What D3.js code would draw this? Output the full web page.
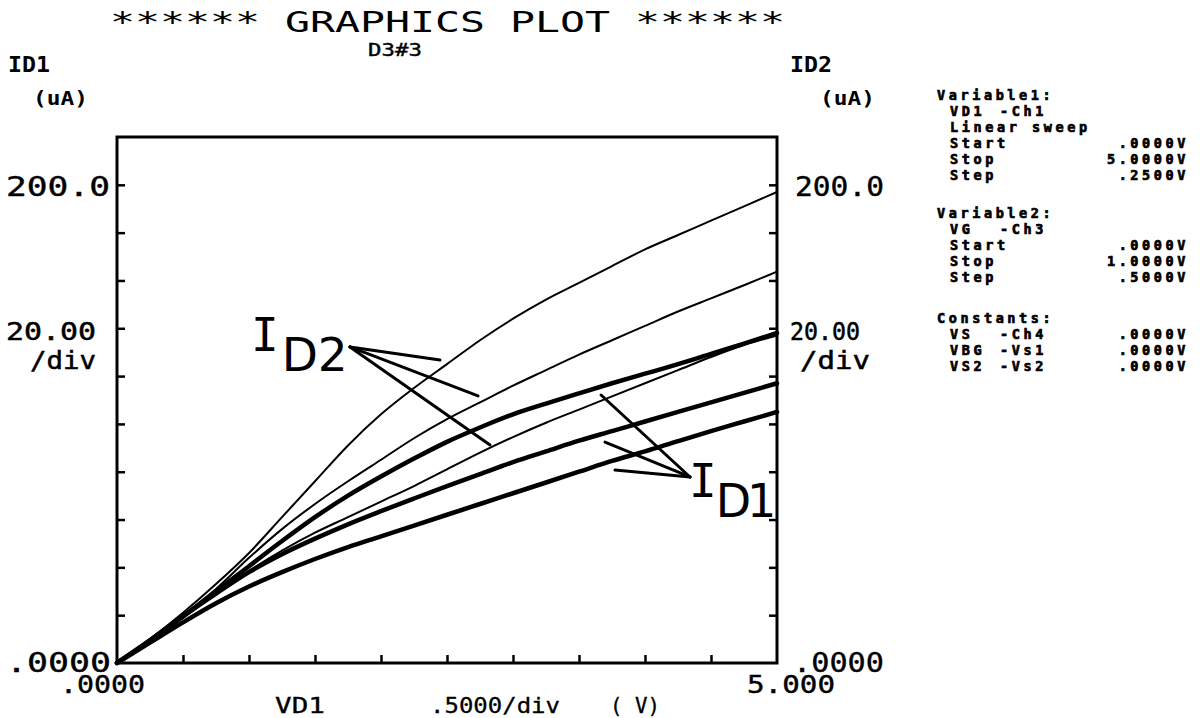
<!DOCTYPE html>
<html><head><meta charset="utf-8">
<script src="https://cdn.jsdelivr.net/npm/d3@7/dist/d3.min.js"></script>
<style>body{margin:0;background:#fff} svg{display:block}</style>
</head><body><svg id="c" width="1201" height="718"></svg>
<script>
// ---- data ----
const vd = [0,0.25,0.5,0.75,1,1.25,1.5,1.75,2,2.25,2.5,2.75,3,3.25,3.5,3.75,4,4.25,4.5,4.75,5];
const id2_a = [0,10,21,33,46,61,76,91,104,115,125,135,144,152,159,166,173,179,185,191,197];
const id2_b = [0,9.5,20,31,44,56,66.5,76,85,94,102,109,116,122.5,129,135,141,147,152.5,158,163.7];
const id2_c = [0,9.5,19.5,29,38.5,47,54.5,61,67.5,74,81,88,94.5,100.5,106,111.5,117,122.5,128,133,137];
const id1_a = [0,9.5,19.5,30,40.5,51,61,70,78,85.5,92.5,98.5,104,108.5,112.8,117,121,125,129.3,133.6,138];
const id1_b = [0,9.5,19.5,29,38,45.5,52,58,63.5,68.8,74,79,84,88.5,93,97,101,105,109,113,117];
const id1_c = [0,8.5,17,25,32,38,43.5,48.5,53,57.5,62,66.5,71,75.5,80,84.5,88.5,92.8,97,101,105];
const yTicks = [20,40,60,80,100,120,140,160,180,200];
const xTicks = [0.5,1,1.5,2,2.5,3,3.5,4,4.5];
const titleText = "****** GRAPHICS PLOT ******";
const subTitle = "D3#3";
const yLabels = ["200.0","20.00","/div",".0000"];
const xLabels = [".0000","5.000"];
const xAxisTitle = ["VD1",".5000/div","( V)"];
const panelHead = ["Variable1:","Variable2:","Constants:"];
const panelRows1 = [["VD1","-Ch1",""],["Linear sweep","",""],["Start","",".0000V"],["Stop","","5.0000V"],["Step","",".2500V"]];
const panelRows2 = [["VG","-Ch3",""],["Start","",".0000V"],["Stop","","1.0000V"],["Step","",".5000V"]];
const panelRows3 = [["VS","-Ch4",".0000V"],["VBG","-Vs1",".0000V"],["VS2","-Vs2",".0000V"]];
// annotation arrows in data coords (V, uA)
const annID2 = {sub:"D2", tip:[1.765,132.2], ends:[[2.447,126.7],[2.735,111.7],[2.826,91.2]]};
const annID1 = {sub:"D1", tip:[4.341,77.8], ends:[[3.667,112.1],[3.697,92.4],[3.773,80.7]]};

// ---- drawing ----
const svg = d3.select("#c");
svg.append("rect").attr("width",1201).attr("height",718).attr("fill","#fff");
const x = d3.scaleLinear([0,5],[117,777]);
const y = d3.scaleLinear([0,220],[663,137]);
const MONO = "'DejaVu Sans Mono', monospace";
const SANS = "'DejaVu Sans', sans-serif";

function txt(str, x0, base, width, size, weight, extra, fam){
  const t = svg.append("text").attr("x",x0).attr("y",base)
    .attr("font-family",fam||MONO).attr("font-size",size)
    .attr("font-weight",weight||"normal").attr("fill","#000").text(str);
  if (width) t.attr("textLength",width).attr("lengthAdjust","spacingAndGlyphs");
  if (extra) t.attr("stroke","#000").attr("stroke-width",extra);
  return t;
}

// axes ticks
const gl = svg.append("g").attr("transform","translate(117,0)")
  .call(d3.axisRight(y).tickValues(yTicks).tickSize(8).tickFormat(""));
const gr = svg.append("g").attr("transform","translate(777,0)")
  .call(d3.axisLeft(y).tickValues(yTicks).tickSize(8).tickFormat(""));
const gb = svg.append("g").attr("transform","translate(0,663)")
  .call(d3.axisTop(x).tickValues(xTicks).tickSize(8).tickFormat(""));
[gl,gr,gb].forEach(g=>{g.select(".domain").remove(); g.selectAll("line").attr("stroke","#000").attr("stroke-width",2.5);});
svg.append("rect").attr("x",x(0)).attr("y",y(220)).attr("width",x(5)-x(0)).attr("height",y(0)-y(220))
  .attr("fill","none").attr("stroke","#000").attr("stroke-width",3);

// curves
const line = d3.line().x((d,i)=>x(vd[i])).y(d=>y(d)).curve(d3.curveMonotoneX);
const curves = [[id2_a,2],[id2_b,2],[id2_c,2],[id1_a,4.5],[id1_b,4.5],[id1_c,4.5]];
curves.forEach(([arr,w])=>{
  svg.append("path").attr("d",line(arr)).attr("fill","none").attr("stroke","#000")
    .attr("stroke-width",w).attr("stroke-linejoin","round").attr("stroke-linecap","round");
});

// annotation arrows
[annID2,annID1].forEach(a=>{
  a.ends.forEach(e=>{
    svg.append("line").attr("x1",x(a.tip[0])).attr("y1",y(a.tip[1]))
      .attr("x2",x(e[0])).attr("y2",y(e[1])).attr("stroke","#000").attr("stroke-width",3)
      .attr("stroke-linecap","round");
  });
});
// annotation labels: I with subscript in one text element
function annLabel(a, dxI, dyI, dxSub, subSize, subSpacing){
  const t = svg.append("text").attr("x",x(a.tip[0])+dxI).attr("y",y(a.tip[1])+dyI).attr("fill","#000");
  t.append("tspan").attr("font-family",MONO).attr("font-size",46).text("I");
  t.append("tspan").attr("font-family",SANS).attr("font-size",subSize).attr("dx",dxSub).attr("dy",20)
    .attr("letter-spacing",subSpacing).text(a.sub);
}
annLabel(annID2, -99, 4, 3, 47, 0);
annLabel(annID1, -1, 20, -1, 46, -4);

// title
txt(titleText, 110, 32, 675, 28);
txt(subTitle, 368, 56, 54, 18, "normal", 0.4);
// axis headers
txt("ID1", 8, 72, 42, 22, "bold");
txt("(uA)", 33, 105, 55, 20, "bold");
txt("ID2", 790, 72, 42, 22, "bold");
txt("(uA)", 820, 105, 55, 20, "bold");
// y labels left
txt(yLabels[0], 6, 196, 104, 27, "normal", 0.4);
txt(yLabels[1], 6, 340, 90, 24, "normal", 0.5);
txt(yLabels[2], 30, 369, 66, 24, "normal", 0.5);
txt(yLabels[3], 6, 672, 105, 27, "normal", 0.4);
// y labels right
txt(yLabels[0], 795, 196, 89, 27, "normal", 0.4);
txt(yLabels[1], 790, 340, 70, 24, "normal", 0.5);
txt(yLabels[2], 800, 369, 70, 24, "normal", 0.5);
txt(yLabels[3], 793, 672, 91, 27, "normal", 0.4);
// x labels
txt(xLabels[0], 60, 693, 85, 24, "normal", 0.4);
txt(xLabels[1], 747, 693, 88, 24, "normal", 0.4);
txt(xAxisTitle[0], 275, 713, 50, 21, "normal", 0.3);
txt(xAxisTitle[1], 430, 713, 130, 21, "normal", 0.3);
txt(xAxisTitle[2], 610, 713, 50, 21, "normal", 0.3);

// side panel
const PX = 937, IX = 950, CX = 1000, RX = 1186, LH = 16;
function ptxt(str, xx, yy, anchor){
  svg.append("text").attr("x",xx).attr("y",yy).attr("font-family",MONO).attr("font-weight","bold")
    .attr("font-size",13.5).attr("letter-spacing",3.6).attr("text-anchor",anchor||"start")
    .attr("stroke","#000").attr("stroke-width",0.7).text(str);
}
function panelBlock(head, rows, y0){
  ptxt(head, PX, y0);
  rows.forEach((r,i)=>{
    const yy = y0 + LH*(i+1);
    ptxt(r[0], IX, yy);
    if (r[1]) ptxt(r[1], CX, yy);
    if (r[2]) ptxt(r[2], RX+3, yy, "end");
  });
}
panelBlock(panelHead[0], panelRows1, 100);
panelBlock(panelHead[1], panelRows2, 218);
panelBlock(panelHead[2], panelRows3, 323);
</script></body></html>
